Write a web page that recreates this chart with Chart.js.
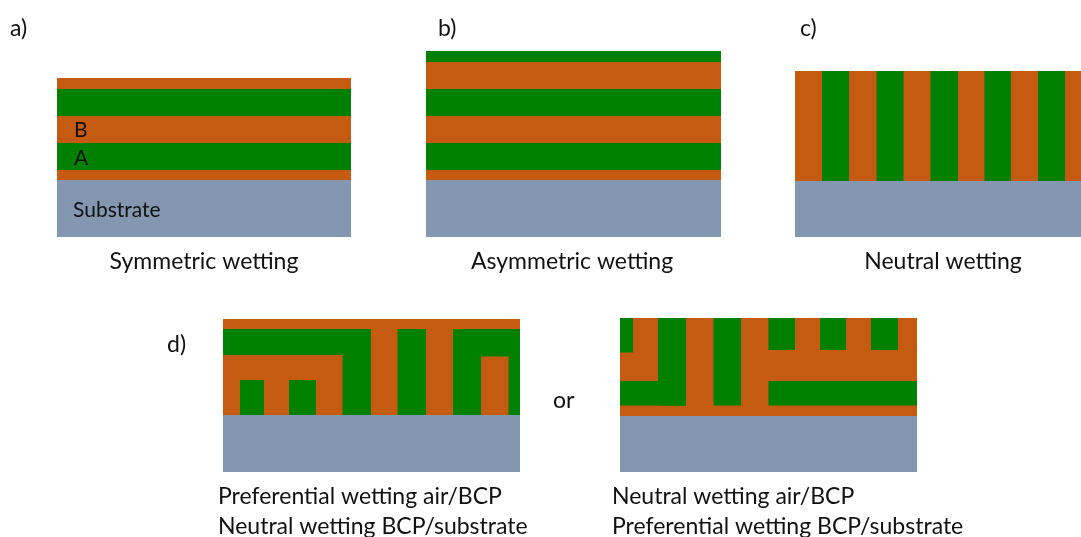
<!DOCTYPE html>
<html lang="en">
<head>
    <meta charset="UTF-8">
    <title>BCP wetting configurations</title>
    <script src="https://cdn.jsdelivr.net/npm/chart.js@4.4.0/dist/chart.umd.min.js"></script>
    <style>
        body { margin: 0; background: #FFFFFF; }
        #wrap { width: 1081px; height: 537px; }
    </style>
</head>
<body>
    <div id="wrap"><canvas id="diagram" width="1081" height="537"></canvas></div>
    <script>
        // material colours
        const colours = { A: '#008000', B: '#C55A11', S: '#8497B0' };

        // layer rectangles [x0, y0, x1, y1] in axis units, per panel and material
        // a) symmetric wetting
        const aBlockB = [[57, 78, 351, 180]];
        const aBlockA = [[57, 89, 351, 116], [57, 143, 351, 170]];
        const aSubstrate = [[57, 180, 351, 237]];
        // b) asymmetric wetting
        const bBlockB = [[426, 51, 721, 180]];
        const bBlockA = [[426, 51, 721, 62], [426, 89, 721, 116], [426, 143, 721, 170]];
        const bSubstrate = [[426, 180, 721, 237]];
        // c) neutral wetting (vertical lamellae)
        const cBlockB = [[795, 71, 1081, 181]];
        const cBlockA = [[822, 71, 849, 181], [876.5, 71, 903.5, 181], [930.5, 71, 958, 181],
                         [984.5, 71, 1011, 181], [1038, 71, 1065, 181]];
        const cSubstrate = [[795, 181, 1081, 237]];
        // d) left: preferential air/BCP, neutral BCP/substrate
        const dlBlockB = [[223, 319, 520, 415]];
        const dlBlockA = [[223, 329, 371, 355], [342.5, 355, 371, 415], [397.5, 329, 426, 415],
                          [453, 329, 520, 415], [240, 380, 264, 415], [289, 380, 316, 415]];
        const dlBlockBInset = [[481, 356.5, 508.5, 415]];
        const dlSubstrate = [[223, 415, 520, 472]];
        // d) right: neutral air/BCP, preferential BCP/substrate
        const drBlockB = [[620, 318, 917, 416]];
        const drBlockA = [[620, 318, 633, 352.5], [658, 318, 686, 405.5], [620, 381, 686, 405.5],
                          [713.5, 318, 741, 405.5], [768.5, 381, 917, 405.5],
                          [768.5, 318, 795, 350], [820, 318, 846, 350], [871, 318, 898, 350]];
        const drSubstrate = [[620, 416, 917, 472]];

        // paint order, bottom first
        const paintOrder = [
            ['B', aBlockB], ['A', aBlockA], ['S', aSubstrate],
            ['B', bBlockB], ['A', bBlockA], ['S', bSubstrate],
            ['B', cBlockB], ['A', cBlockA], ['S', cSubstrate],
            ['B', dlBlockB], ['A', dlBlockA], ['B', dlBlockBInset], ['S', dlSubstrate],
            ['B', drBlockB], ['A', drBlockA], ['S', drSubstrate]
        ];

        // texts
        const panelLetters = ['a)', 'b)', 'c)', 'd)'];
        const panelLetterPos = [[10, 36], [438, 36], [800, 36], [167, 352]];
        const layerNames = ['B', 'A', 'Substrate'];
        const layerNamePos = [[74, 137], [74, 165], [73, 217]];
        const captions = ['Symmetric wetting', 'Asymmetric wetting', 'Neutral wetting'];
        const captionPos = [[204, 269], [572, 269], [943, 269]];
        const dCaptions = ['Preferential wetting air/BCP', 'Neutral wetting BCP/substrate',
                           'Neutral wetting air/BCP', 'Preferential wetting BCP/substrate'];
        const dCaptionPos = [[218, 504], [218, 534], [612, 504], [612, 534]];
        const orText = 'or';
        const orPos = [553, 408];

        const fontFamily = 'Lato, "Open Sans", sans-serif';
        const textColour = '#111111';

        function rectToPoints(r) {
            return [
                { x: r[0], y: r[1] }, { x: r[2], y: r[1] },
                { x: r[2], y: r[3] }, { x: r[0], y: r[3] }, { x: r[0], y: r[1] }
            ];
        }

        const datasets = [];
        paintOrder.forEach(([material, rects]) => {
            rects.forEach(r => {
                datasets.push({
                    data: rectToPoints(r),
                    backgroundColor: colours[material],
                    borderColor: colours[material],
                    borderWidth: 0,
                    borderJoinStyle: 'miter',
                    pointRadius: 0,
                    tension: 0,
                    fill: 'shape',
                    order: -datasets.length
                });
            });
        });

        const textPlugin = {
            id: 'diagramText',
            afterDraw(chart) {
                const ctx = chart.ctx;
                const xs = chart.scales.x, ys = chart.scales.y;
                const put = (txt, pos, size, align) => {
                    ctx.font = size + 'px ' + fontFamily;
                    ctx.textAlign = align;
                    ctx.textBaseline = 'alphabetic';
                    ctx.fillText(txt, xs.getPixelForValue(pos[0]), ys.getPixelForValue(pos[1]));
                };
                ctx.save();
                ctx.fillStyle = textColour;
                panelLetters.forEach((t, i) => put(t, panelLetterPos[i], 23, 'left'));
                layerNames.forEach((t, i) => put(t, layerNamePos[i], 21, 'left'));
                captions.forEach((t, i) => put(t, captionPos[i], 23, 'center'));
                dCaptions.forEach((t, i) => put(t, dCaptionPos[i], 23, 'left'));
                put(orText, orPos, 23, 'left');
                ctx.restore();
            }
        };

        new Chart(document.getElementById('diagram'), {
            type: 'line',
            data: { datasets: datasets },
            options: {
                responsive: false,
                animation: false,
                events: [],
                layout: { padding: 0 },
                scales: {
                    x: { type: 'linear', min: 0, max: 1081, display: false },
                    y: { type: 'linear', min: 0, max: 537, reverse: true, display: false }
                },
                plugins: {
                    legend: { display: false },
                    tooltip: { enabled: false },
                    filler: { propagate: false }
                }
            },
            plugins: [textPlugin]
        });
    </script>
</body>
</html>
